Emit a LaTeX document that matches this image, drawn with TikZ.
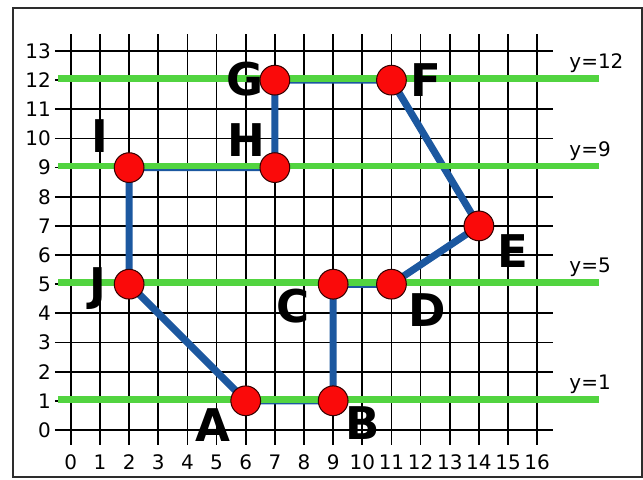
\documentclass[tikz,border=0pt]{standalone}
\usepackage{fontspec}
\setmainfont{DejaVu Sans}
\usepackage{xcolor}
\definecolor{pathBlue}{RGB}{28, 88, 160}
\definecolor{levelGreen}{RGB}{82, 212, 64}
\definecolor{dotRed}{RGB}{250, 10, 10}
\definecolor{frameGray}{RGB}{45, 45, 45}

\begin{document}
\begin{tikzpicture}[
    gridline/.style={line width=1.7pt, black},
    ticklbl/.style={font=\fontsize{19.5}{19.5}\selectfont, inner sep=0pt},
    level/.style={line width=6.5pt, levelGreen},
    edge/.style={line width=7pt, pathBlue},
    dot/.style={circle, fill=dotRed, draw=black!80!red, line width=1pt, minimum size=1.02cm, inner sep=0pt},
    letter/.style={font=\fontsize{44}{44}\selectfont\bfseries, inner sep=0pt}
]
    \useasboundingbox (-2.43,-1.69) rectangle (19.63,14.75);
    \draw[line width=2pt, frameGray] (-2.0,-1.63) rectangle (19.58,14.46);
    % grid
    \foreach \x in {0,...,16} {
        \draw[gridline] (\x,-0.5) -- (\x,13.6);
        \node[ticklbl] (tx\x) at (\x,-1.12) {\x};
    }
    \foreach \y in {0,...,13} {
        \draw[gridline] (-0.55,\y) -- (16.55,\y);
        \node[ticklbl, anchor=east] (ty\y) at (-0.68,\y) {\y};
    }
    % points
    \coordinate (A) at (6,1);
    \coordinate (B) at (9,1);
    \coordinate (C) at (9,5);
    \coordinate (D) at (11,5);
    \coordinate (E) at (14,7);
    \coordinate (F) at (11,12);
    \coordinate (G) at (7,12);
    \coordinate (H) at (7,9);
    \coordinate (I) at (2,9);
    \coordinate (J) at (2,5);
    \draw[edge] (A) -- (B) -- (C) -- (D) -- (E) -- (F) -- (G) -- (H) -- (I) -- (J) -- cycle;
    % levels
    \foreach \yy in {1,5,9,12} {
        \draw[level] (-0.43,\yy+0.05) -- (18.13,\yy+0.05);
        \node[ticklbl, anchor=west] (lev\yy) at (17.1,\yy+0.57) {y=\yy};
    }
    \foreach \p in {A,B,C,D,E,F,G,H,I,J}
        \node[dot] (dot\p) at (\p) {};
    \node[letter] (lA) at (4.88,0.15) {A};
    \node[letter] (lB) at (10.0,0.25) {B};
    \node[letter] (lC) at (7.63,4.24) {C};
    \node[letter] (lD) at (12.24,4.1) {D};
    \node[letter] (lE) at (15.17,6.13) {E};
    \node[letter] (lF) at (12.17,12.0) {F};
    \node[letter] (lG) at (5.96,12.05) {G};
    \node[letter] (lH) at (6.02,9.94) {H};
    \node[letter] (lI) at (0.99,10.08) {I};
    \node[letter] (lJ) at (0.92,4.85) {J};
\end{tikzpicture}
\end{document}
